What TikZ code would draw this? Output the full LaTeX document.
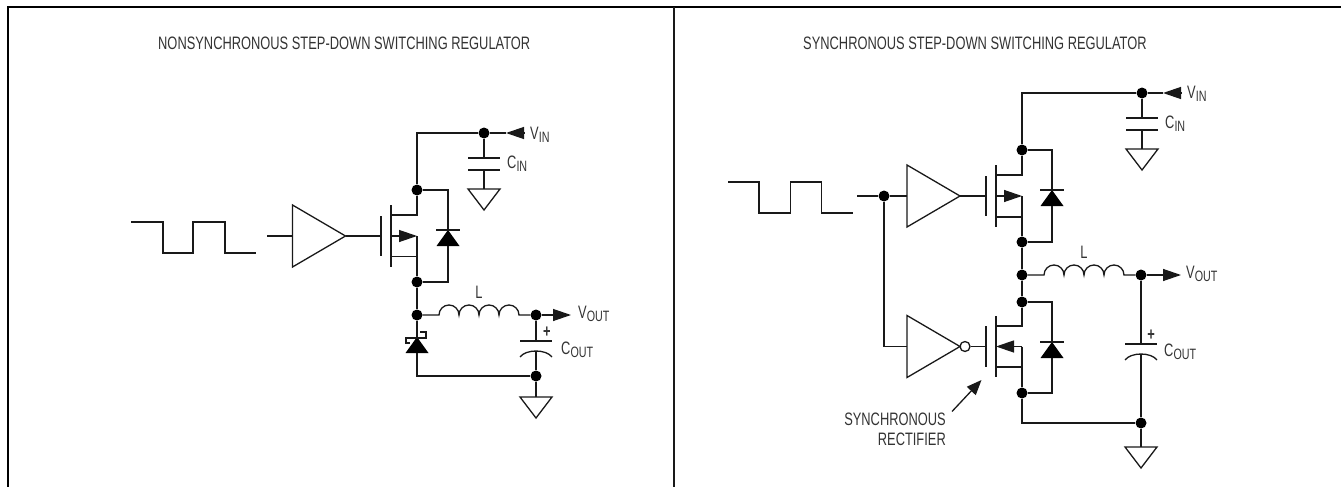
\documentclass[tikz,border=0pt]{standalone}
\usepackage{fontspec}
\setmainfont[FakeStretch=0.715]{Liberation Sans}
\usetikzlibrary{arrows.meta, shapes.geometric}

\newcommand{\sub}[1]{\raisebox{-3pt}{\fontsize{15}{15}\selectfont #1}}

\tikzset{
	wire/.style={line width=1.3pt, draw=black!90},
	dot/.style={circle, fill=black, inner sep=0pt, minimum size=11pt},
	tip/.style={wire, -{Triangle[length=18pt,width=12pt]}},
	amp/.style={isosceles triangle, isosceles triangle stretches, draw=black!90, line width=1.3pt, inner sep=0pt, outer sep=0pt, minimum width=62pt, minimum height=53pt, anchor=lower side},
	diode/.style={isosceles triangle, isosceles triangle stretches, fill=black, inner sep=0pt, outer sep=0pt, minimum width=23pt, minimum height=16pt, shape border rotate=90, anchor=lower side},
	gnd/.style={isosceles triangle, isosceles triangle stretches, draw=black!90, line width=1.3pt, inner sep=0pt, outer sep=0pt, minimum width=32pt, minimum height=21pt, shape border rotate=-90, anchor=lower side},
	lab/.style={text=black!80, font=\fontsize{18}{20}\selectfont, inner sep=0pt},
}

\begin{document}
\begin{tikzpicture}[x=1pt, y=-1pt]
	\useasboundingbox (0,0) rectangle (1341,487);

	% frame
	\coordinate (TL) at (8,7);
	\coordinate (TR) at (1341,7);
	\coordinate (BL) at (8,487);
	\coordinate (TM) at (674,7);
	\coordinate (BM) at (674,487);
	\draw [line width=2pt] (BL) -- (TL) -- (TR);
	\draw [wire] (TM) -- (BM);

	\node [lab, anchor=west] (title1) at (158,43) {NONSYNCHRONOUS STEP-DOWN SWITCHING REGULATOR};
	\node [lab, anchor=west] (title2) at (803,43) {SYNCHRONOUS STEP-DOWN SWITCHING REGULATOR};

	% nonsynchronous
	\draw [wire] (131,222) -- (163,222) -- (163,253) -- (193,253) -- (193,222) -- (225,222) -- (225,253) -- (256,253);

	\coordinate (In1) at (267,236);
	\node [amp] (A1) at (292.5,236) {};
	\draw [wire] (In1) -- (A1.lower side);

	\coordinate (G1) at (381,236);
	\draw [wire] (A1.apex) -- (G1);
	\draw [wire] (381,216) -- (381,256);
	\draw [wire] (391,205) -- (391,267);

	\node [dot] (N1) at (484,133) {};
	\node [dot] (N2) at (417,190) {};
	\node [dot] (N3) at (417,282) {};
	\node [dot] (N4) at (417,315) {};
	\node [dot] (N5) at (536,315) {};
	\node [dot] (N6) at (536,376) {};
	\coordinate (Q1d) at (391,215);
	\coordinate (Q1b) at (391,236);
	\coordinate (Q1s) at (391,256.5);
	\coordinate (Q1m) at (417,236);
	\coordinate (Top1) at (417,133);

	\draw [wire] (N1) -- (Top1) -- (N2);
	\draw [wire] (N2) |- (Q1d);
	\draw [tip] (Q1b) -- (Q1m);
	\draw [wire] (Q1m) -- (N3);
	\draw [wire] (Q1s) -- (417,256.5);
	\draw [wire] (N3) -- (N4);

	\node [diode] (D1) at (448,246) {};
	\draw [wire] (N2) -| (D1.apex);
	\draw [wire] (N3) -| (D1.lower side);
	\draw [wire] ([xshift=-12pt]D1.apex) -- ([xshift=12pt]D1.apex);

	\coordinate (Vin1) at (506,133);
	\coordinate (Vin1end) at (524,133);
	\draw [wire] (N1) -- (Vin1);
	\draw [tip] (Vin1end) -- (Vin1);
	\node [lab, anchor=west] (VIN1) at (530,135) {V\sub{IN}};

	\coordinate (P1) at (484,158);
	\coordinate (P2) at (484,170);
	\node [gnd] (Gnd1) at (484,189) {};
	\draw [wire] (N1) -- (P1);
	\draw [wire] (468,158) -- (500,158);
	\draw [wire] (468,170) -- (500,170);
	\draw [wire] (P2) -- (Gnd1.lower side);
	\node [lab, anchor=west] (CIN1) at (507,164) {C\sub{IN}};

	\coordinate (L1) at (439,315);
	\coordinate (L2) at (519,315);
	\draw [wire] (N4) -- (L1) arc [start angle=180, end angle=0, radius=10pt] arc [start angle=180, end angle=0, radius=10pt] arc [start angle=180, end angle=0, radius=10pt] arc [start angle=180, end angle=0, radius=10pt] -- (N5);
	\node [lab] (L) at (479,292) {L};

	\coordinate (Vout1) at (571,315);
	\draw [tip] (N5) -- (Vout1);
	\node [lab, anchor=west] (VOUT1) at (578,314) {V\sub{OUT}};

	\node [diode] (D2) at (417,353) {};
	\draw [wire] (N4) -- (D2.apex);
	\coordinate (Bot1) at (417,376);
	\draw [wire] (D2.lower side) -- (Bot1) -- (N6);
	\draw [wire] (410,343) -- (406,343) -- (406,338) -- (426,338) -- (426,332) -- (420,332);

	\coordinate (P3) at (536,341);
	\coordinate (P4) at (536,351);
	\draw [wire] (N5) -- (P3);
	\draw [wire] (520,341) -- (552,341);
	\draw [wire] (520,357) .. controls (526,349) and (546,349) .. (552,357);
	\draw [wire] (P4) -- (N6);
	\node [gnd] (Gnd2) at (536,397) {};
	\draw [wire] (N6) -- (Gnd2.lower side);
	\node [lab] (plus1) at (547,332) {\bfseries +};
	\node [lab, anchor=west] (COUT1) at (561,350) {C\sub{OUT}};

	% synchronous
	\draw [wire] (728,182) -- (759,182) -- (759,213) -- (790.7,213) -- (790.7,182) -- (821.7,182) -- (821.7,213) -- (853,213);

	\coordinate (In2) at (857,196);
	\node [dot] (M0) at (884,196) {};
	\node [amp] (A2) at (907,196) {};
	\node [amp] (A3) at (907,346.5) {};
	\node [circle, draw=black!90, line width=1.3pt, inner sep=0pt, minimum size=10pt] (Inv) at (965,346.5) {};
	\coordinate (In3) at (884,346.5);
	\draw [wire] (In2) -- (M0) -- (A2.lower side);
	\draw [wire] (M0) -- (In3) -- (A3.lower side);

	\coordinate (G2) at (986,196);
	\coordinate (G3) at (986,346.5);
	\draw [wire] (A2.apex) -- (G2);
	\draw [wire] (Inv) -- (G3);
	\draw [wire] (986,176) -- (986,216);
	\draw [wire] (996,165) -- (996,227);
	\draw [wire] (986,326) -- (986,367);
	\draw [wire] (996,316) -- (996,377);

	\node [dot] (M1) at (1142,93) {};
	\node [dot] (M2) at (1022,150) {};
	\node [dot] (M3) at (1022,242) {};
	\node [dot] (M4) at (1022,275) {};
	\node [dot] (M5) at (1022,302) {};
	\node [dot] (M6) at (1022,393) {};
	\node [dot] (M7) at (1141,275) {};
	\node [dot] (M8) at (1141,423) {};

	\coordinate (Top2) at (1022,93);
	\coordinate (Q2d) at (996,175);
	\coordinate (Q2b) at (996,196);
	\coordinate (Q2s) at (996,217);
	\coordinate (Q2m) at (1022,196);
	\coordinate (Q3d) at (996,326);
	\coordinate (Q3b) at (996,346.5);
	\coordinate (Q3s) at (996,367);
	\coordinate (Q3m) at (1022,346.5);
	\coordinate (Bot2) at (1022,423);

	\draw [wire] (M1) -- (Top2) -- (M2);
	\draw [wire] (M2) |- (Q2d);
	\draw [tip] (Q2b) -- (Q2m);
	\draw [wire] (Q2m) -- (M3);
	\draw [wire] (Q2s) -- (1022,217);
	\draw [wire] (M3) -- (M4) -- (M5);
	\draw [wire] (M5) |- (Q3d);
	\draw [tip] (Q3m) -- (Q3b);
	\draw [wire] (Q3m) -- (M6);
	\draw [wire] (Q3s) -- (1022,367);
	\draw [wire] (M6) -- (Bot2) -- (M8);

	\node [diode] (D3) at (1052,206) {};
	\draw [wire] (M2) -| (D3.apex);
	\draw [wire] (M3) -| (D3.lower side);
	\draw [wire] ([xshift=-12pt]D3.apex) -- ([xshift=12pt]D3.apex);
	\node [diode] (D4) at (1052,358) {};
	\draw [wire] (M5) -| (D4.apex);
	\draw [wire] (M6) -| (D4.lower side);
	\draw [wire] ([xshift=-12pt]D4.apex) -- ([xshift=12pt]D4.apex);

	\coordinate (Vin2) at (1163,93);
	\coordinate (Vin2end) at (1181,93);
	\draw [wire] (M1) -- (Vin2);
	\draw [tip] (Vin2end) -- (Vin2);
	\node [lab, anchor=west] (VIN2) at (1187,94) {V\sub{IN}};

	\coordinate (P5) at (1142,118);
	\coordinate (P6) at (1142,130);
	\node [gnd] (Gnd3) at (1142,149) {};
	\draw [wire] (M1) -- (P5);
	\draw [wire] (1126,118) -- (1158,118);
	\draw [wire] (1126,130) -- (1158,130);
	\draw [wire] (P6) -- (Gnd3.lower side);
	\node [lab, anchor=west] (CIN2) at (1165,124) {C\sub{IN}};

	\coordinate (L3) at (1044,275);
	\draw [wire] (M4) -- (L3) arc [start angle=180, end angle=0, radius=10pt] arc [start angle=180, end angle=0, radius=10pt] arc [start angle=180, end angle=0, radius=10pt] arc [start angle=180, end angle=0, radius=10pt] -- (M7);
	\node [lab] (L') at (1084,252) {L};

	\coordinate (Vout2) at (1181,275);
	\draw [tip] (M7) -- (Vout2);
	\node [lab, anchor=west] (VOUT2) at (1186,274) {V\sub{OUT}};

	\coordinate (P7) at (1141,344);
	\coordinate (P8) at (1141,354);
	\draw [wire] (M7) -- (P7);
	\draw [wire] (1125,344) -- (1157,344);
	\draw [wire] (1125,360) .. controls (1131,352) and (1151,352) .. (1157,360);
	\draw [wire] (P8) -- (M8);
	\node [gnd] (Gnd4) at (1141,447) {};
	\draw [wire] (M8) -- (Gnd4.lower side);
	\node [lab] (plus2) at (1151,335) {\bfseries +};
	\node [lab, anchor=west] (COUT2) at (1164,352) {C\sub{OUT}};

	\node [lab, anchor=east, align=right] (Sync) at (946,429) {SYNCHRONOUS\\RECTIFIER};
	\coordinate (SyncTip) at (981.5,380);
	\coordinate (SyncTail) at (952,411.5);
	\draw [wire, -{Triangle[length=15pt,width=12pt]}] (SyncTail) -- (SyncTip);
\end{tikzpicture}
\end{document}
